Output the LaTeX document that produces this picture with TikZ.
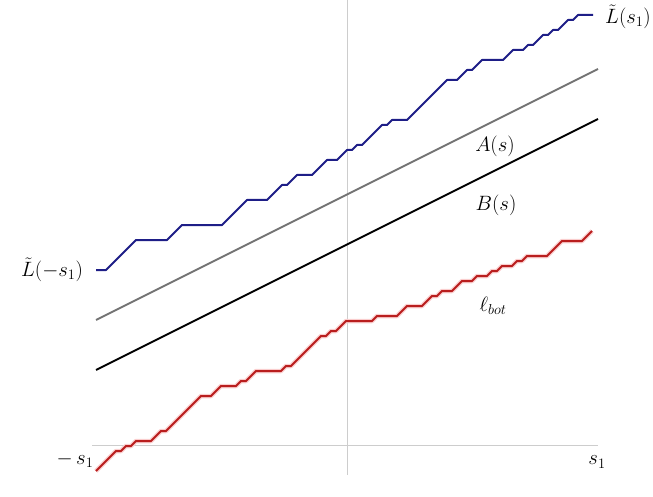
\documentclass[tikz,border=0pt]{standalone}
\definecolor{bluestair}{RGB}{30,30,135}
\definecolor{redstair}{RGB}{185,30,30}
\definecolor{redglow}{RGB}{250,205,205}
\definecolor{axisgray}{RGB}{205,205,205}
\definecolor{linegray}{RGB}{115,115,115}
\tikzset{
  lbl/.style={inner sep=0pt, font=\fontsize{20.7}{25}\selectfont},
  axisline/.style={draw=axisgray, line width=0.9pt},
  stairs/.style={line width=2pt, line join=round},
}
\begin{document}
\begin{tikzpicture}[x=1pt,y=-1pt]
\useasboundingbox (0,0) rectangle (653,497);
% axes
\coordinate (xl) at (92,445);
\coordinate (xr) at (598,445);
\coordinate (yt) at (347,0);
\coordinate (yb) at (347,475);
\draw[axisline] (xl) -- (xr);
\draw[axisline] (yt) -- (yb);
% A(s) and B(s)
\coordinate (a0) at (96,320);
\coordinate (a1) at (598,69);
\coordinate (b0) at (96,370);
\coordinate (b1) at (598,119);
\draw[draw=linegray, line width=1.8pt] (a0) -- (a1);
\draw[draw=black, line width=2pt] (b0) -- (b1);
% blue staircase
\draw[stairs, draw=bluestair]
 (96,270) -- (106,270) -- (136,240) -- (167,240) -- (182,225) -- (222,225)
 -- (247,200) -- (267,200) -- (282,185) -- (287,185) -- (297,175) -- (312,175)
 -- (327,160) -- (337,160) -- (347,150) -- (352,150) -- (357,145) -- (362,145)
 -- (382,125) -- (387,125) -- (392,120) -- (407,120) -- (447,80) -- (457,80)
 -- (467,70) -- (472,70) -- (482,60) -- (503,60) -- (513,50) -- (523,50)
 -- (528,45) -- (533,45) -- (543,35) -- (548,35) -- (553,30) -- (558,30)
 -- (568,20) -- (573,20) -- (578,15) -- (593,15);
% red staircase
\def\redpath{(96,471) -- (116,451) -- (121,451) -- (126,446) -- (131,446) -- (136,441)
 -- (151,441) -- (161,431) -- (166,431) -- (201,396) -- (211,396) -- (221,386)
 -- (236,386) -- (241,381) -- (246,381) -- (256,371) -- (281,371) -- (286,366)
 -- (291,366) -- (321,336) -- (326,336) -- (331,331) -- (336,331) -- (346,321)
 -- (372,321) -- (377,316) -- (397,316) -- (407,306) -- (422,306) -- (432,296)
 -- (437,296) -- (442,291) -- (452,291) -- (462,281) -- (472,281) -- (477,276)
 -- (487,276) -- (492,271) -- (497,271) -- (502,266) -- (512,266) -- (517,261)
 -- (522,261) -- (527,256) -- (547,256) -- (562,241) -- (582,241) -- (592,231)}
\draw[stairs, draw=redglow, line width=4.5pt] \redpath;
\draw[stairs, draw=redstair] \redpath;
% labels
\node[lbl] (Ltop) at (628,17) {$\tilde L(s_1)$};
\node[lbl] (Lbot) at (52,270) {$\tilde L(-s_1)$};
\node[lbl] (As) at (495,146) {$A(s)$};
\node[lbl] (Bs) at (496,205) {$B(s)$};
\node[lbl] (lb) at (493,306) {$\ell_{bot}$};
\node[lbl] (ms) at (75,460) {$-\,s_1$};
\node[lbl] (ps) at (597,462) {$s_1$};
\end{tikzpicture}
\end{document}
